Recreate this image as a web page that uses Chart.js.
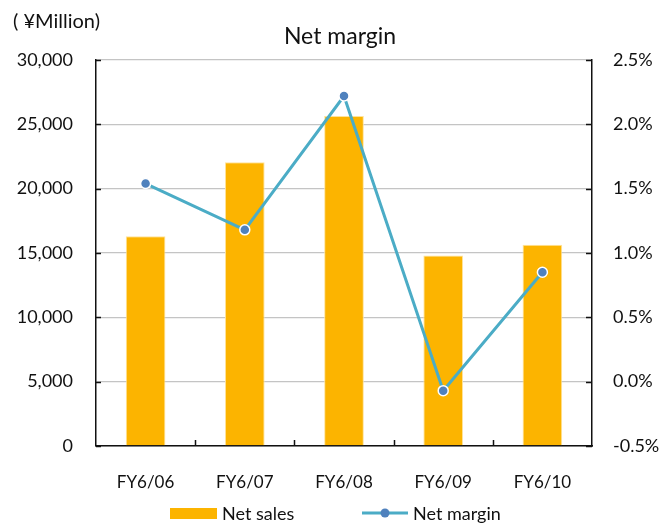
<!DOCTYPE html>
<html>
<head>
<meta charset="utf-8">
<style>
  html, body { margin: 0; padding: 0; background: #ffffff; }
  #wrap { width: 665px; height: 524px; }
</style>
<script src="https://cdn.jsdelivr.net/npm/chart.js@4/dist/chart.umd.min.js"></script>
</head>
<body>
<div id="wrap"><canvas id="c" width="665" height="524"></canvas></div>
<script>
// Fiscal years
const categories = ['FY6/06', 'FY6/07', 'FY6/08', 'FY6/09', 'FY6/10'];
// Net sales, ¥ million
const netSales = [16300, 22050, 25650, 14800, 15650];
// Net margin, %
const netMargin = [1.54, 1.18, 2.22, -0.07, 0.85];
// Axis ranges
const salesTicks = [0, 5000, 10000, 15000, 20000, 25000, 30000];
const marginTicks = [-0.5, 0, 0.5, 1.0, 1.5, 2.0, 2.5];

const FONT = 'Lato, "DejaVu Sans", sans-serif';
const INK = '#111111';
const BAR = '#FCB400';
const LINE = '#4BACC6';
const DOT = '#4F81BD';

// Small inward tick marks, title, unit label and legend
const decor = {
  id: 'decor',
  afterDraw(chart) {
    const ctx = chart.ctx;
    const area = chart.chartArea;
    const y = chart.scales.y, y1 = chart.scales.y1, x = chart.scales.x;
    ctx.save();
    ctx.strokeStyle = INK;
    ctx.lineWidth = 1.5;
    ctx.beginPath();
    y.ticks.forEach((t, i) => {
      const py = Math.round(y.getPixelForTick(i)) + 0.5;
      ctx.moveTo(area.left, py); ctx.lineTo(area.left + 5, py);
    });
    y1.ticks.forEach((t, i) => {
      const py = Math.round(y1.getPixelForTick(i)) + 0.5;
      ctx.moveTo(area.right, py); ctx.lineTo(area.right - 6, py);
    });
    for (let i = 1; i < categories.length; i++) {
      const px = Math.round((x.getPixelForValue(i - 1) + x.getPixelForValue(i)) / 2) + 0.5;
      ctx.moveTo(px, area.bottom); ctx.lineTo(px, area.bottom - 6);
    }
    ctx.stroke();

    // Title over the plot
    ctx.fillStyle = INK;
    ctx.textBaseline = 'alphabetic';
    ctx.textAlign = 'center';
    ctx.font = '23px ' + FONT;
    ctx.fillText('Net margin', 340, 44);

    // Unit label
    ctx.textAlign = 'left';
    ctx.font = '20px ' + FONT;
    ctx.fillText('( ¥Million)', 13, 28);

    // Legend
    const ly = 513;
    ctx.textBaseline = 'middle';
    ctx.fillStyle = BAR;
    ctx.fillRect(170, ly - 5, 47, 11);
    ctx.fillStyle = INK;
    ctx.font = '18px ' + FONT;
    ctx.fillText('Net sales', 222, ly + 1);

    ctx.strokeStyle = LINE;
    ctx.lineWidth = 3;
    ctx.beginPath();
    ctx.moveTo(362, ly); ctx.lineTo(408, ly);
    ctx.stroke();
    ctx.fillStyle = DOT;
    ctx.beginPath();
    ctx.arc(385, ly, 4.5, 0, Math.PI * 2);
    ctx.fill();
    ctx.fillStyle = INK;
    ctx.fillText('Net margin', 413, ly + 1);
    ctx.restore();
  }
};

new Chart(document.getElementById('c'), {
  type: 'bar',
  data: {
    labels: categories,
    datasets: [
      {
        type: 'line',
        label: 'Net margin',
        data: netMargin,
        yAxisID: 'y1',
        borderColor: LINE,
        borderWidth: 3,
        pointRadius: 5,
        pointBackgroundColor: DOT,
        pointBorderColor: '#ffffff',
        pointBorderWidth: 1.5,
        tension: 0,
        order: 0
      },
      {
        type: 'bar',
        label: 'Net sales',
        data: netSales,
        yAxisID: 'y',
        backgroundColor: BAR,
        borderColor: '#FFE39A',
        borderWidth: 1,
        barPercentage: 0.4,
        categoryPercentage: 1.0,
        order: 1
      }
    ]
  },
  options: {
    responsive: false,
    animation: false,
    devicePixelRatio: 1,
    layout: { padding: { top: 60, left: 0, right: 0, bottom: 0 } },
    plugins: {
      legend: { display: false },
      title: { display: false },
      tooltip: { enabled: false }
    },
    scales: {
      x: {
        offset: true,
        grid: { display: false, drawTicks: false },
        border: { display: true, color: INK, width: 1.5 },
        ticks: { color: INK, font: { family: FONT, size: 17 }, padding: 26, maxRotation: 0 },
        afterFit(s) { s.height = 78; }
      },
      y: {
        position: 'left',
        min: salesTicks[0],
        max: salesTicks[salesTicks.length - 1],
        afterBuildTicks(s) { s.ticks = salesTicks.map(v => ({ value: v })); },
        grid: { color: '#C4C4C4', lineWidth: 1.3, drawTicks: false },
        border: { display: true, color: INK, width: 1.5 },
        ticks: {
          color: INK,
          font: { family: FONT, size: 18 },
          padding: 23,
          callback: v => v.toLocaleString('en-US')
        },
        afterFit(s) { s.width = 96; }
      },
      y1: {
        position: 'right',
        min: marginTicks[0],
        max: marginTicks[marginTicks.length - 1],
        afterBuildTicks(s) { s.ticks = marginTicks.map(v => ({ value: v })); },
        grid: { display: false, drawTicks: false },
        border: { display: true, color: INK, width: 1.5 },
        ticks: {
          color: INK,
          font: { family: FONT, size: 18 },
          padding: 21,
          callback: v => v.toFixed(1) + '%'
        },
        afterFit(s) { s.width = 73; }
      }
    }
  },
  plugins: [decor]
});
</script>
</body>
</html>
